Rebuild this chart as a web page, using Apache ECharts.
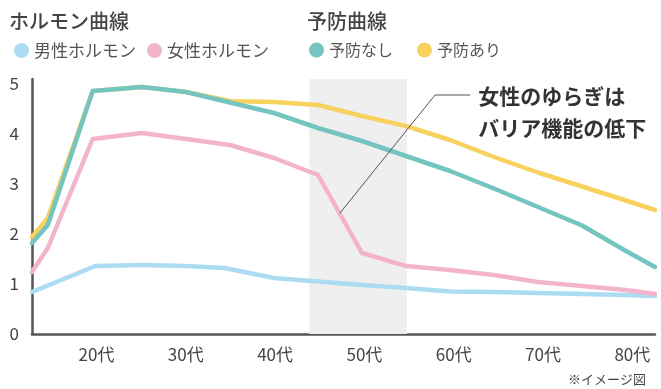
<!DOCTYPE html>
<html><head><meta charset="utf-8">
<script src="https://cdn.jsdelivr.net/npm/echarts@6/dist/echarts.min.js"></script>
<style>html,body{margin:0;padding:0;background:#fff}#c{width:661px;height:389px}</style>
</head><body><div id="c"></div>
<script>
const FONT = '"Noto Sans CJK JP","Noto Sans",sans-serif';
const xTicks = [20, 30, 40, 50, 60, 70, 80];
const yTicks = [0, 1, 2, 3, 4, 5];
const maleHormone = [[12.78,0.84],[19.88,1.36],[25.1,1.38],[30.02,1.36],[34.36,1.32],[39.88,1.12],[44.8,1.05],[49.73,0.98],[54.66,0.92],[59.59,0.85],[64.51,0.84],[69.44,0.82],[74.37,0.8],[79.29,0.78],[82.54,0.76]];
const femaleHormone = [[12.78,1.24],[14.55,1.72],[19.57,3.9],[25.1,4.02],[30.02,3.9],[34.95,3.78],[39.88,3.52],[44.8,3.18],[49.73,1.62],[54.66,1.36],[59.59,1.28],[64.51,1.18],[69.44,1.04],[74.37,0.96],[79.29,0.88],[82.54,0.8]];
const noPrevention = [[12.78,1.82],[14.55,2.18],[19.57,4.86],[25.1,4.94],[30.02,4.84],[34.95,4.63],[39.88,4.42],[44.8,4.12],[49.73,3.86],[54.66,3.56],[59.59,3.26],[64.51,2.91],[69.44,2.54],[74.37,2.17],[79.29,1.66],[82.54,1.34]];
const withPrevention = [[12.78,1.94],[14.55,2.32],[19.57,4.86],[25.1,4.94],[30.02,4.84],[34.95,4.66],[39.88,4.64],[44.8,4.58],[49.73,4.36],[54.66,4.16],[59.59,3.88],[64.51,3.54],[69.44,3.23],[74.37,2.95],[79.29,2.67],[82.54,2.48]];
const band = [43.82, 54.76];
const leader = [[47.27,2.42],[57.91,4.78],[61.85,4.78]];
const annotation = '女性のゆらぎは\nバリア機能の低下';

const chart = echarts.init(document.getElementById('c'), null, {renderer: 'canvas'});
function lineSeries(name, data, color, z) {
  return {name, type: 'line', data, symbol: 'none', z,
    lineStyle: {color, width: 4.5, cap: 'round', join: 'round'}, itemStyle: {color}};
}
chart.setOption({
  animation: false,
  textStyle: {fontFamily: FONT},
  grid: {left: 32, right: 6, top: 79, bottom: 55},
  title: [
    {text: 'ホルモン曲線', left: 4, top: 6, textStyle: {fontSize: 20, fontWeight: 500, color: '#444', fontFamily: FONT}},
    {text: '予防曲線', left: 302, top: 6, textStyle: {fontSize: 20, fontWeight: 500, color: '#444', fontFamily: FONT}},
    {text: '※イメージ図', right: 10, top: 368, textStyle: {fontSize: 13, fontWeight: 'normal', color: '#444', fontFamily: FONT}}
  ],
  legend: [
    {data: ['男性ホルモン', '女性ホルモン'], left: 9, top: 37, icon: 'circle', itemWidth: 15, itemHeight: 15, itemGap: 11,
      textStyle: {fontSize: 17, color: '#555', fontFamily: FONT}},
    {data: ['予防なし', '予防あり'], left: 304, top: 37, icon: 'circle', itemWidth: 15, itemHeight: 15, itemGap: 24,
      textStyle: {fontSize: 16, color: '#555', fontFamily: FONT}}
  ],
  xAxis: {type: 'value', min: 12.78, max: 82.54,
    axisLine: {show: true, lineStyle: {color: '#555', width: 2.5}}, axisTick: {show: false}, splitLine: {show: false},
    axisLabel: {customValues: xTicks, formatter: v => v + '代', fontSize: 17, color: '#444', margin: 12}},
  yAxis: {type: 'value', min: 0, max: 5.1,
    axisLine: {show: true, lineStyle: {color: '#555', width: 2.5}}, axisTick: {show: false}, splitLine: {show: false},
    axisLabel: {customValues: yTicks, fontSize: 17, color: '#444', margin: 13}},
  series: [
    {type: 'line', data: [], z: 1, silent: true,
      markArea: {silent: true, itemStyle: {color: '#efefef'}, data: [[{xAxis: band[0]}, {xAxis: band[1]}]]}},
    lineSeries('男性ホルモン', maleHormone, '#acdcf1', 3),
    lineSeries('女性ホルモン', femaleHormone, '#f3b4cb', 3),
    lineSeries('予防あり', withPrevention, '#f8d15f', 3),
    lineSeries('予防なし', noPrevention, '#74c4c0', 3),
    {type: 'line', data: leader, symbol: 'none', z: 5, silent: true,
      lineStyle: {color: '#555', width: 1},
      label: {show: false},
      endLabel: {show: true, formatter: annotation, fontSize: 21, fontWeight: 'bold', lineHeight: 32,
        color: '#333', fontFamily: FONT, distance: 8, offset: [0, 17], align: 'left'}}
  ]
});
</script></body></html>
